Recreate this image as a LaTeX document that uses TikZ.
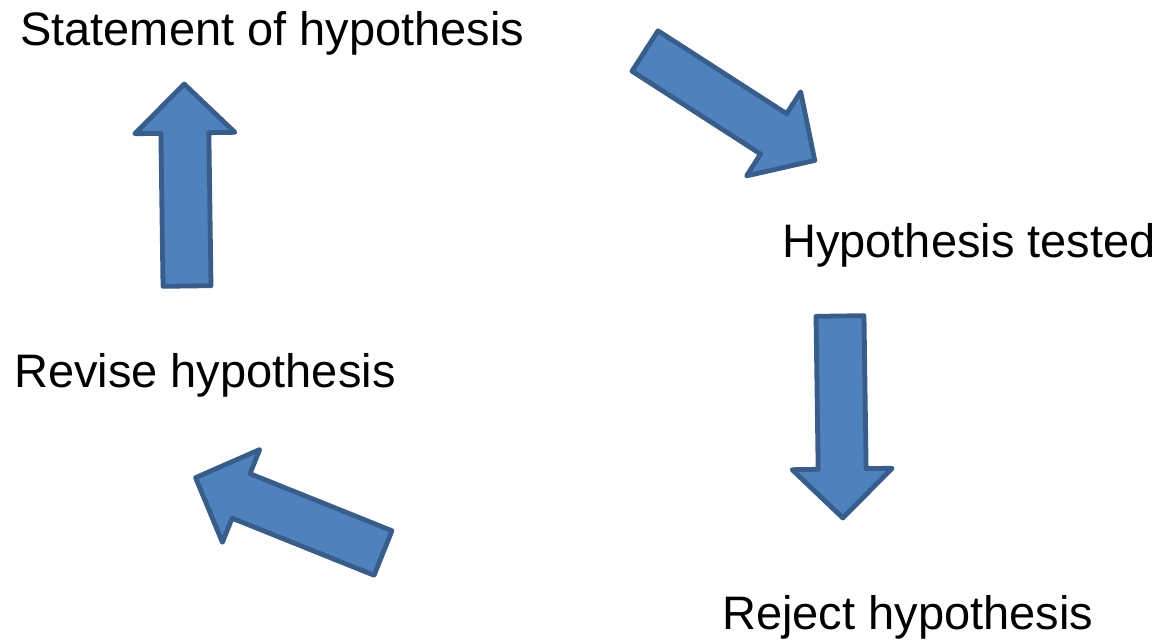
\documentclass[tikz,border=0pt]{standalone}
\usepackage{fontspec}
\setmainfont{Liberation Sans}
\usepackage{xcolor}

\definecolor{arrowfill}{HTML}{4F81BD}
\definecolor{arrowline}{HTML}{385D8A}

\tikzset{
  steptext/.style={inner sep=0pt, anchor=base west, font=\fontsize{47}{56}\selectfont},
  arrowbody/.style={fill=arrowfill, draw=arrowline, line width=4.8pt, line join=round},
  blockarrow/.pic={
    \draw[arrowbody] (0,-24) -- (153,-24) -- (153,-50) -- (202,0)
      -- (153,50) -- (153,24) -- (0,24) -- cycle;
  }
}

\begin{document}
\begin{tikzpicture}[x=1pt,y=1pt]
%\draw[help lines] (0,0) grid (1161,641);
\useasboundingbox (0,0) rectangle (1161,641);

% the four steps
\node[steptext] (statement) at (20,595) {Statement of hypothesis};
\node[steptext] (tested)    at (782,384) {Hypothesis tested};
\node[steptext] (reject)    at (722,12)  {Reject hypothesis};
\node[steptext] (revise)    at (14,254)  {Revise hypothesis};

% block arrows round the cycle
\pic[rotate=-32.8] at (645,590)   {blockarrow};
\pic[rotate=-89.2] at (840,325)   {blockarrow};
\pic[rotate=158.1] at (383,88)    {blockarrow};
\pic[rotate=90.8]  at (187,355)   {blockarrow};

\end{tikzpicture}
\end{document}
